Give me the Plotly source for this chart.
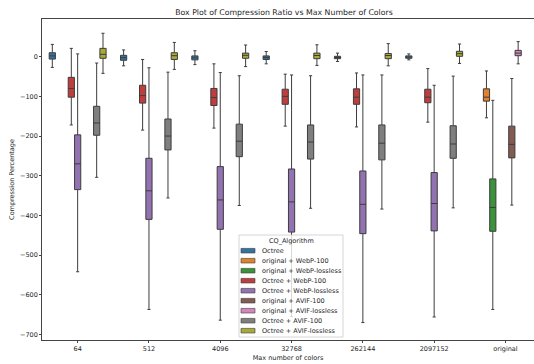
import plotly.graph_objects as go

categories = ["64", "512", "4096", "32768", "262144", "2097152", "original"]
algorithms = ["Octree", "original + WebP-100", "original + WebP-lossless",
              "Octree + WebP-100", "Octree + WebP-lossless", "original + AVIF-100",
              "original + AVIF-lossless", "Octree + AVIF-100", "Octree + AVIF-lossless"]
colors = ["#3274a1", "#e1812c", "#3a923a", "#c03d3e", "#9372b2",
          "#845b53", "#d684bd", "#7f7f7f", "#a9aa35"]

# box summary values per algorithm: (categories present, lowerfence, q1, median, q3, upperfence)
octree_cats = categories[:6]
orig_cats = ["original"]
stats = {
    "Octree": (octree_cats,
               [-27, -23, -20, -18, -12, -8],
               [-6, -9, -8, -7, -5, -4],
               [2, -2.5, -3, -2, -2, -1],
               [10, 3.5, 2, 2, 1, 2],
               [31, 17, 15, 13, 9, 7]),
    "original + WebP-100": (orig_cats, [-154], [-112], [-102], [-81], [-36]),
    "original + WebP-lossless": (orig_cats, [-637], [-440], [-380], [-308], [-110]),
    "Octree + WebP-100": (octree_cats,
                          [-172, -185, -180, -175, -177, -165],
                          [-102, -117, -123, -120, -120, -116],
                          [-80, -98, -103, -100, -102, -102],
                          [-52, -72, -80, -82, -81, -82],
                          [21, -7, -18, -44, -41, -30]),
    "Octree + WebP-lossless": (octree_cats,
                               [-542, -637, -664, -655, -670, -656],
                               [-335, -410, -435, -442, -446, -439],
                               [-270, -338, -361, -366, -372, -370],
                               [-197, -256, -277, -283, -288, -292],
                               [7, -28, -40, -46, -46, -72]),
    "original + AVIF-100": (orig_cats, [-374], [-255], [-221], [-175], [-55]),
    "original + AVIF-lossless": (orig_cats, [-18], [2.5], [9], [16], [38]),
    "Octree + AVIF-100": (octree_cats,
                          [-304, -356, -375, -382, -384, -381],
                          [-198, -235, -252, -258, -260, -256],
                          [-167, -200, -213, -215, -218, -220],
                          [-125, -157, -170, -172, -172, -174],
                          [-16, -39, -48, -48, -46, -49]),
    "Octree + AVIF-lossless": (octree_cats,
                               [-42, -32, -25, -22, -23, -17],
                               [-4, -7, -4, -5, -5, 1],
                               [6, 2.5, 3.5, 3, 3, 7.6],
                               [21, 10, 9, 9, 8, 13.6],
                               [59, 36, 29.5, 30, 33, 32]),
}

y_ticks = [0, -100, -200, -300, -400, -500, -600, -700]
y_tick_text = ["0", "\u2212100", "\u2212200", "\u2212300", "\u2212400", "\u2212500", "\u2212600", "\u2212700"]

LINE = "#3d3d3d"
FONT = "DejaVu Sans"
TXT = "#262626"
W, H = 534, 364
L, R, T, B = 42, 0, 19, 24

fig = go.Figure()
for alg, col in zip(algorithms, colors):
    cats, lo, q1, med, q3, hi = stats[alg]
    fig.add_trace(go.Box(
        x=cats, q1=q1, median=med, q3=q3, lowerfence=lo, upperfence=hi,
        name=alg, fillcolor=col, line=dict(color=LINE, width=1),
        boxpoints=False, whiskerwidth=0.5, showlegend=False,
    ))

fig.update_layout(
    width=W, height=H,
    margin=dict(l=L, r=R, t=T, b=B),
    paper_bgcolor="white", plot_bgcolor="white",
    boxmode="group", boxgap=0.2, boxgroupgap=0.02,
    font=dict(family=FONT, size=6.5, color=TXT),
    title=dict(text="Box Plot of Compression Ratio vs Max Number of Colors",
               x=284 / W, xref="container", xanchor="center",
               y=1 - 12 / H, yref="container", yanchor="middle",
               font=dict(size=7.8, color=TXT, family=FONT)),
    xaxis=dict(type="category", categoryorder="array", categoryarray=categories,
               range=[-0.5, 6.4], showgrid=False, zeroline=False,
               showline=True, linecolor="#444", linewidth=0.8, mirror=True,
               ticks="outside", ticklen=2, tickcolor="#444", tickwidth=0.8,
               title=dict(text="Max number of colors", standoff=3,
                          font=dict(size=6.5, family=FONT, color=TXT)),
               tickfont=dict(size=6.5, family=FONT, color=TXT)),
    yaxis=dict(range=[-714, 95], showgrid=False, zeroline=False,
               showline=True, linecolor="#444", linewidth=0.8, mirror=True,
               ticks="outside", ticklen=2, tickcolor="#444", tickwidth=0.8,
               tickvals=y_ticks, ticktext=y_tick_text,
               title=dict(text="Compression Percentage", standoff=4,
                          font=dict(size=6.5, family=FONT, color=TXT)),
               tickfont=dict(size=6.5, family=FONT, color=TXT)),
)

# Legend drawn manually (matplotlib-like compact legend)
pw = W - L - R
ph = H - T - B
def px(xp):
    return (xp - L) / pw
def py(yp):
    return (H - B - yp) / ph

shapes = [dict(type="rect", xref="paper", yref="paper",
               x0=px(239), x1=px(343), y0=py(337), y1=py(235),
               fillcolor="rgba(255,255,255,0.8)", line=dict(color="#cccccc", width=0.8),
               layer="above")]
annotations = [dict(text="CQ_Algorithm", xref="paper", yref="paper",
                    x=px(291), y=py(241), showarrow=False, xanchor="center", yanchor="middle",
                    font=dict(size=6.5, family=FONT, color=TXT))]
for i, (alg, col) in enumerate(zip(algorithms, colors)):
    yc = 250.7 + 10 * i
    shapes.append(dict(type="rect", xref="paper", yref="paper",
                       x0=px(241), x1=px(255), y0=py(yc + 2.3), y1=py(yc - 2.3),
                       fillcolor=col, line=dict(color=LINE, width=0.6), layer="above"))
    annotations.append(dict(text=alg, xref="paper", yref="paper",
                            x=px(260), y=py(yc), showarrow=False,
                            xanchor="left", yanchor="middle",
                            font=dict(size=6.5, family=FONT, color=TXT)))
fig.update_layout(shapes=shapes, annotations=annotations)

fig.write_html("out.html")
